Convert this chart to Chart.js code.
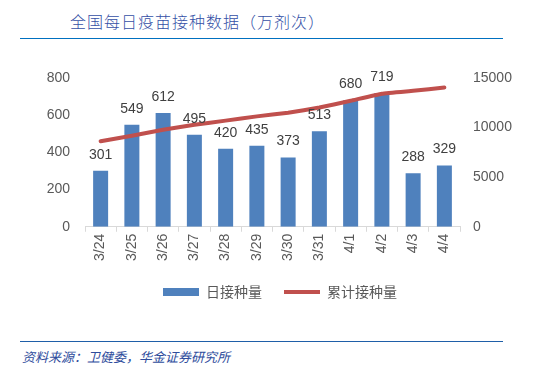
<!DOCTYPE html>
<html>
<head>
<meta charset="utf-8">
<script src="https://cdn.jsdelivr.net/npm/chart.js@4"></script>
<style>
	body { margin: 0; width: 560px; height: 385px; background: #fff; position: relative; overflow: hidden; font-family: "Noto Sans CJK SC", sans-serif; }
	#title { position: absolute; left: 70px; top: 9px; font-size: 16px; color: #3450A6; letter-spacing: 1px; font-weight: 300; }
	.rule { position: absolute; left: 20px; width: 483px; height: 0; border-top: 1.5px solid #0070C0; }
	#source { position: absolute; left: 22px; top: 347px; font-size: 13px; color: #2E4C9C; font-style: italic; }
	#wrap { position: absolute; left: 20px; top: 50px; width: 520px; height: 259px; }
</style>
</head>
<body>
<div id="title">全国每日疫苗接种数据（万剂次）</div>
<div class="rule" style="top: 38px;"></div>
<div id="wrap"><canvas id="myChart"></canvas></div>
<div class="rule" style="top: 341px; border-top-color: #1F5FA8;"></div>
<div id="source">资料来源：卫健委，华金证券研究所</div>
<script>
const dates = ["3/24", "3/25", "3/26", "3/27", "3/28", "3/29", "3/30", "3/31", "4/1", "4/2", "4/3", "4/4"];
const dailyDoses = [301, 549, 612, 495, 420, 435, 373, 513, 680, 719, 288, 329];
const totalDoses = [8620, 9170, 9780, 10280, 10700, 11130, 11500, 12020, 12700, 13420, 13710, 14040];
const leftTicks = [0, 200, 400, 600, 800];
const rightTicks = [0, 5000, 10000, 15000];

const textGray = "#595959";
const font = {family: "'Liberation Sans', 'Noto Sans CJK SC', sans-serif", size: 14};

// draw the daily numbers above each bar
const barLabels = {
	id: "barLabels",
	afterDatasetsDraw(chart) {
		const meta = chart.getDatasetMeta(0);
		const ctx = chart.ctx;
		ctx.save();
		ctx.font = "14px 'Liberation Sans', sans-serif";
		ctx.fillStyle = "#404040";
		ctx.textAlign = "center";
		ctx.textBaseline = "bottom";
		meta.data.forEach((bar, i) => {
			ctx.fillText(String(dailyDoses[i]), bar.x, bar.y - 9);
		});
		ctx.restore();
	}
};

const ctx = document.getElementById("myChart").getContext("2d");
const myChart = new Chart(ctx, {
	data: {
		labels: dates,
		datasets: [
			{
				type: "bar",
				label: "日接种量",
				data: dailyDoses,
				backgroundColor: "#4F81BD",
				yAxisID: "y",
				barPercentage: 0.48,
				categoryPercentage: 1,
				pointStyle: "rect",
				order: 1
			},
			{
				type: "line",
				label: "累计接种量",
				data: totalDoses,
				borderColor: "#C0504D",
				backgroundColor: "#C0504D",
				borderWidth: 4,
				borderCapStyle: "round",
				pointRadius: 0,
				tension: 0.1,
				yAxisID: "y1",
				pointStyle: "line",
				order: 0
			}
		]
	},
	plugins: [barLabels],
	options: {
		responsive: true,
		maintainAspectRatio: false,
		animation: false,
		layout: {padding: {top: 28, left: 0, right: 0, bottom: 0}},
		scales: {
			x: {
				offset: true,
				grid: {display: true, drawOnChartArea: false, offset: true, tickLength: 5, color: "#D9D9D9"},
				border: {display: true, color: "#D9D9D9"},
				ticks: {color: textGray, font: {...font, size: 14}, minRotation: 90, maxRotation: 90, padding: 2}
			},
			y: {
				position: "left",
				min: 0,
				max: 800,
				afterBuildTicks: scale => { scale.ticks = leftTicks.map(v => ({value: v})); },
				afterFit: scale => { scale.width = 65; },
				grid: {display: false},
				border: {display: false},
				ticks: {color: textGray, font, padding: 7}
			},
			y1: {
				position: "right",
				min: 0,
				max: 15000,
				afterBuildTicks: scale => { scale.ticks = rightTicks.map(v => ({value: v})); },
				afterFit: scale => { scale.width = 80; },
				grid: {display: false},
				border: {display: false},
				ticks: {color: textGray, font, padding: 5, callback: v => String(v)}
			}
		},
		plugins: {
			legend: {
				position: "bottom",
				labels: {
					color: textGray,
					font: {family: "'Noto Sans CJK SC', sans-serif", size: 14},
					usePointStyle: true,
					pointStyleWidth: 36,
					boxHeight: 8,
					padding: 22,
					sort: (a, b) => a.datasetIndex - b.datasetIndex
				}
			},
			tooltip: {enabled: false}
		}
	}
});
</script>
</body>
</html>
